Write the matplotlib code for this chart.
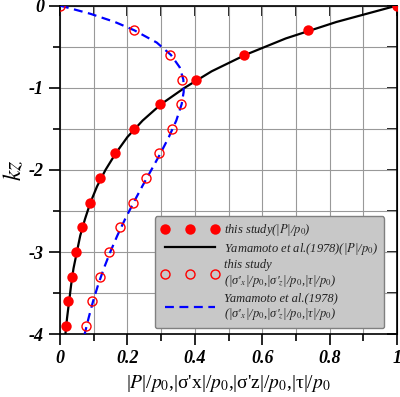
import numpy as np
import matplotlib
matplotlib.use('Agg')
import matplotlib.pyplot as plt
from matplotlib.ticker import MultipleLocator

plt.rcParams['font.family'] = 'Liberation Serif'
plt.rcParams['mathtext.fontset'] = 'stix'
plt.rcParams['axes.unicode_minus'] = False

# this study, |P|/p0 (filled) and stresses (open), at kz = 0, -0.3, ..., -3.9
kz_pts = [0, -0.3, -0.6, -0.9, -1.2, -1.5, -1.8, -2.1, -2.4, -2.7, -3.0, -3.3, -3.6, -3.9]
P_pts = [1.0, 0.736, 0.546, 0.403, 0.296, 0.22, 0.164, 0.12, 0.089, 0.065, 0.047, 0.035, 0.025, 0.018]
S_pts = [0.0, 0.22, 0.326, 0.363, 0.36, 0.333, 0.295, 0.254, 0.216, 0.178, 0.144, 0.12, 0.095, 0.078]

# Yamamoto et al. (1978) curves
kz_P = [0, -0.2, -0.4, -0.6, -0.8, -1.0, -1.2, -1.4, -1.6, -1.8, -2.0, -2.2, -2.4, -2.6,
        -2.8, -3.0, -3.2, -3.4, -3.6, -3.8, -4.0]
P_line = [1.0, 0.82, 0.67, 0.55, 0.45, 0.37, 0.30, 0.245, 0.2, 0.165, 0.135, 0.11, 0.09,
          0.074, 0.06, 0.05, 0.04, 0.033, 0.027, 0.021, 0.016]
kz_S = [0, -0.1, -0.2, -0.3, -0.45, -0.6, -0.75, -0.9, -1.05, -1.2, -1.4, -1.6, -1.8, -2.0,
        -2.2, -2.4, -2.6, -2.8, -3.0, -3.2, -3.4, -3.6, -3.8, -4.0]
S_line = [0.0, 0.09, 0.163, 0.22, 0.287, 0.329, 0.355, 0.366, 0.367, 0.361, 0.345, 0.323,
          0.298, 0.271, 0.244, 0.218, 0.193, 0.17, 0.149, 0.13, 0.113, 0.098, 0.085, 0.073]

xticks = [0, 0.2, 0.4, 0.6, 0.8, 1.0]
xticklabels = ['0', '0.2', '0.4', '0.6', '0.8', '1']
yticks = [0, -1, -2, -3, -4]
yticklabels = ['0', '-1', '-2', '-3', '-4']

stress = "(|σ'$_x$|/$p_0$,|σ'$_z$|/$p_0$,|τ|/$p_0$)"

fig = plt.figure(figsize=(4.0, 3.97), dpi=100)
ax = fig.add_axes([0.15, 0.158, 0.8425, 0.828])

ax.plot(P_pts, kz_pts, 'o', color='red', ms=7.5, mew=0, label='this study(|$P$|/$p_0$)', zorder=4)
ax.plot(P_line, kz_P, '-', color='black', lw=1.6, label='Yamamoto et al.(1978)(|$P$|/$p_0$)', zorder=3)
ax.plot(S_pts, kz_pts, 'o', mfc='none', mec='red', ms=6.5, mew=1.0,
        label='this study\n' + stress, zorder=4)
ax.plot(S_line, kz_S, '--', color='blue', lw=1.6, dashes=(4, 2.5),
        label='Yamamoto et al.(1978)\n' + stress, zorder=3)

ax.set_xlim(0, 1)
ax.set_ylim(-4, 0)
ax.set_xticks(xticks)
ax.set_xticklabels(xticklabels, fontsize=13, fontweight='bold', fontstyle='italic')
ax.set_yticks(yticks)
ax.set_yticklabels(yticklabels, fontsize=13, fontweight='bold', fontstyle='italic')
ax.xaxis.set_minor_locator(MultipleLocator(0.1))
ax.yaxis.set_minor_locator(MultipleLocator(0.5))
ax.tick_params(which='major', direction='out', length=8, width=1.2, top=False, right=False)
ax.tick_params(which='minor', direction='out', length=5, width=1.2, top=False, right=False)
ax.grid(True, which='both', color='#999999', lw=0.8)
ax.set_axisbelow(True)

# inward ticks on top and right
sx = ax.secondary_xaxis('top')
sx.set_xticks(xticks)
sx.xaxis.set_minor_locator(MultipleLocator(0.1))
sx.tick_params(which='both', direction='in', length=7, width=1.2, labeltop=False)
sy = ax.secondary_yaxis('right')
sy.set_yticks(yticks)
sy.yaxis.set_minor_locator(MultipleLocator(0.5))
sy.tick_params(which='both', direction='in', length=7, width=1.2, labelright=False)

for sp in ax.spines.values():
    sp.set_linewidth(1.2)

ax.set_xlabel("|$P$|/$p_0$,|σ'x|/$p_0$,|σ'z|/$p_0$,|τ|/$p_0$", fontsize=14, labelpad=4)
ax.set_ylabel('$kz$', fontsize=17, labelpad=2)

leg = ax.legend(loc='lower right', bbox_to_anchor=(0.98, 0.0), numpoints=3, handlelength=4.6,
                fancybox=True, framealpha=1, facecolor='#c8c8c8', edgecolor='#808080',
                prop={'family': 'Liberation Serif', 'style': 'italic', 'size': 9},
                labelspacing=0.2, borderpad=0.5, handletextpad=0.4)
for t in leg.get_texts():
    t.set_color('#222222')

fig.savefig('out.png', dpi=100)
